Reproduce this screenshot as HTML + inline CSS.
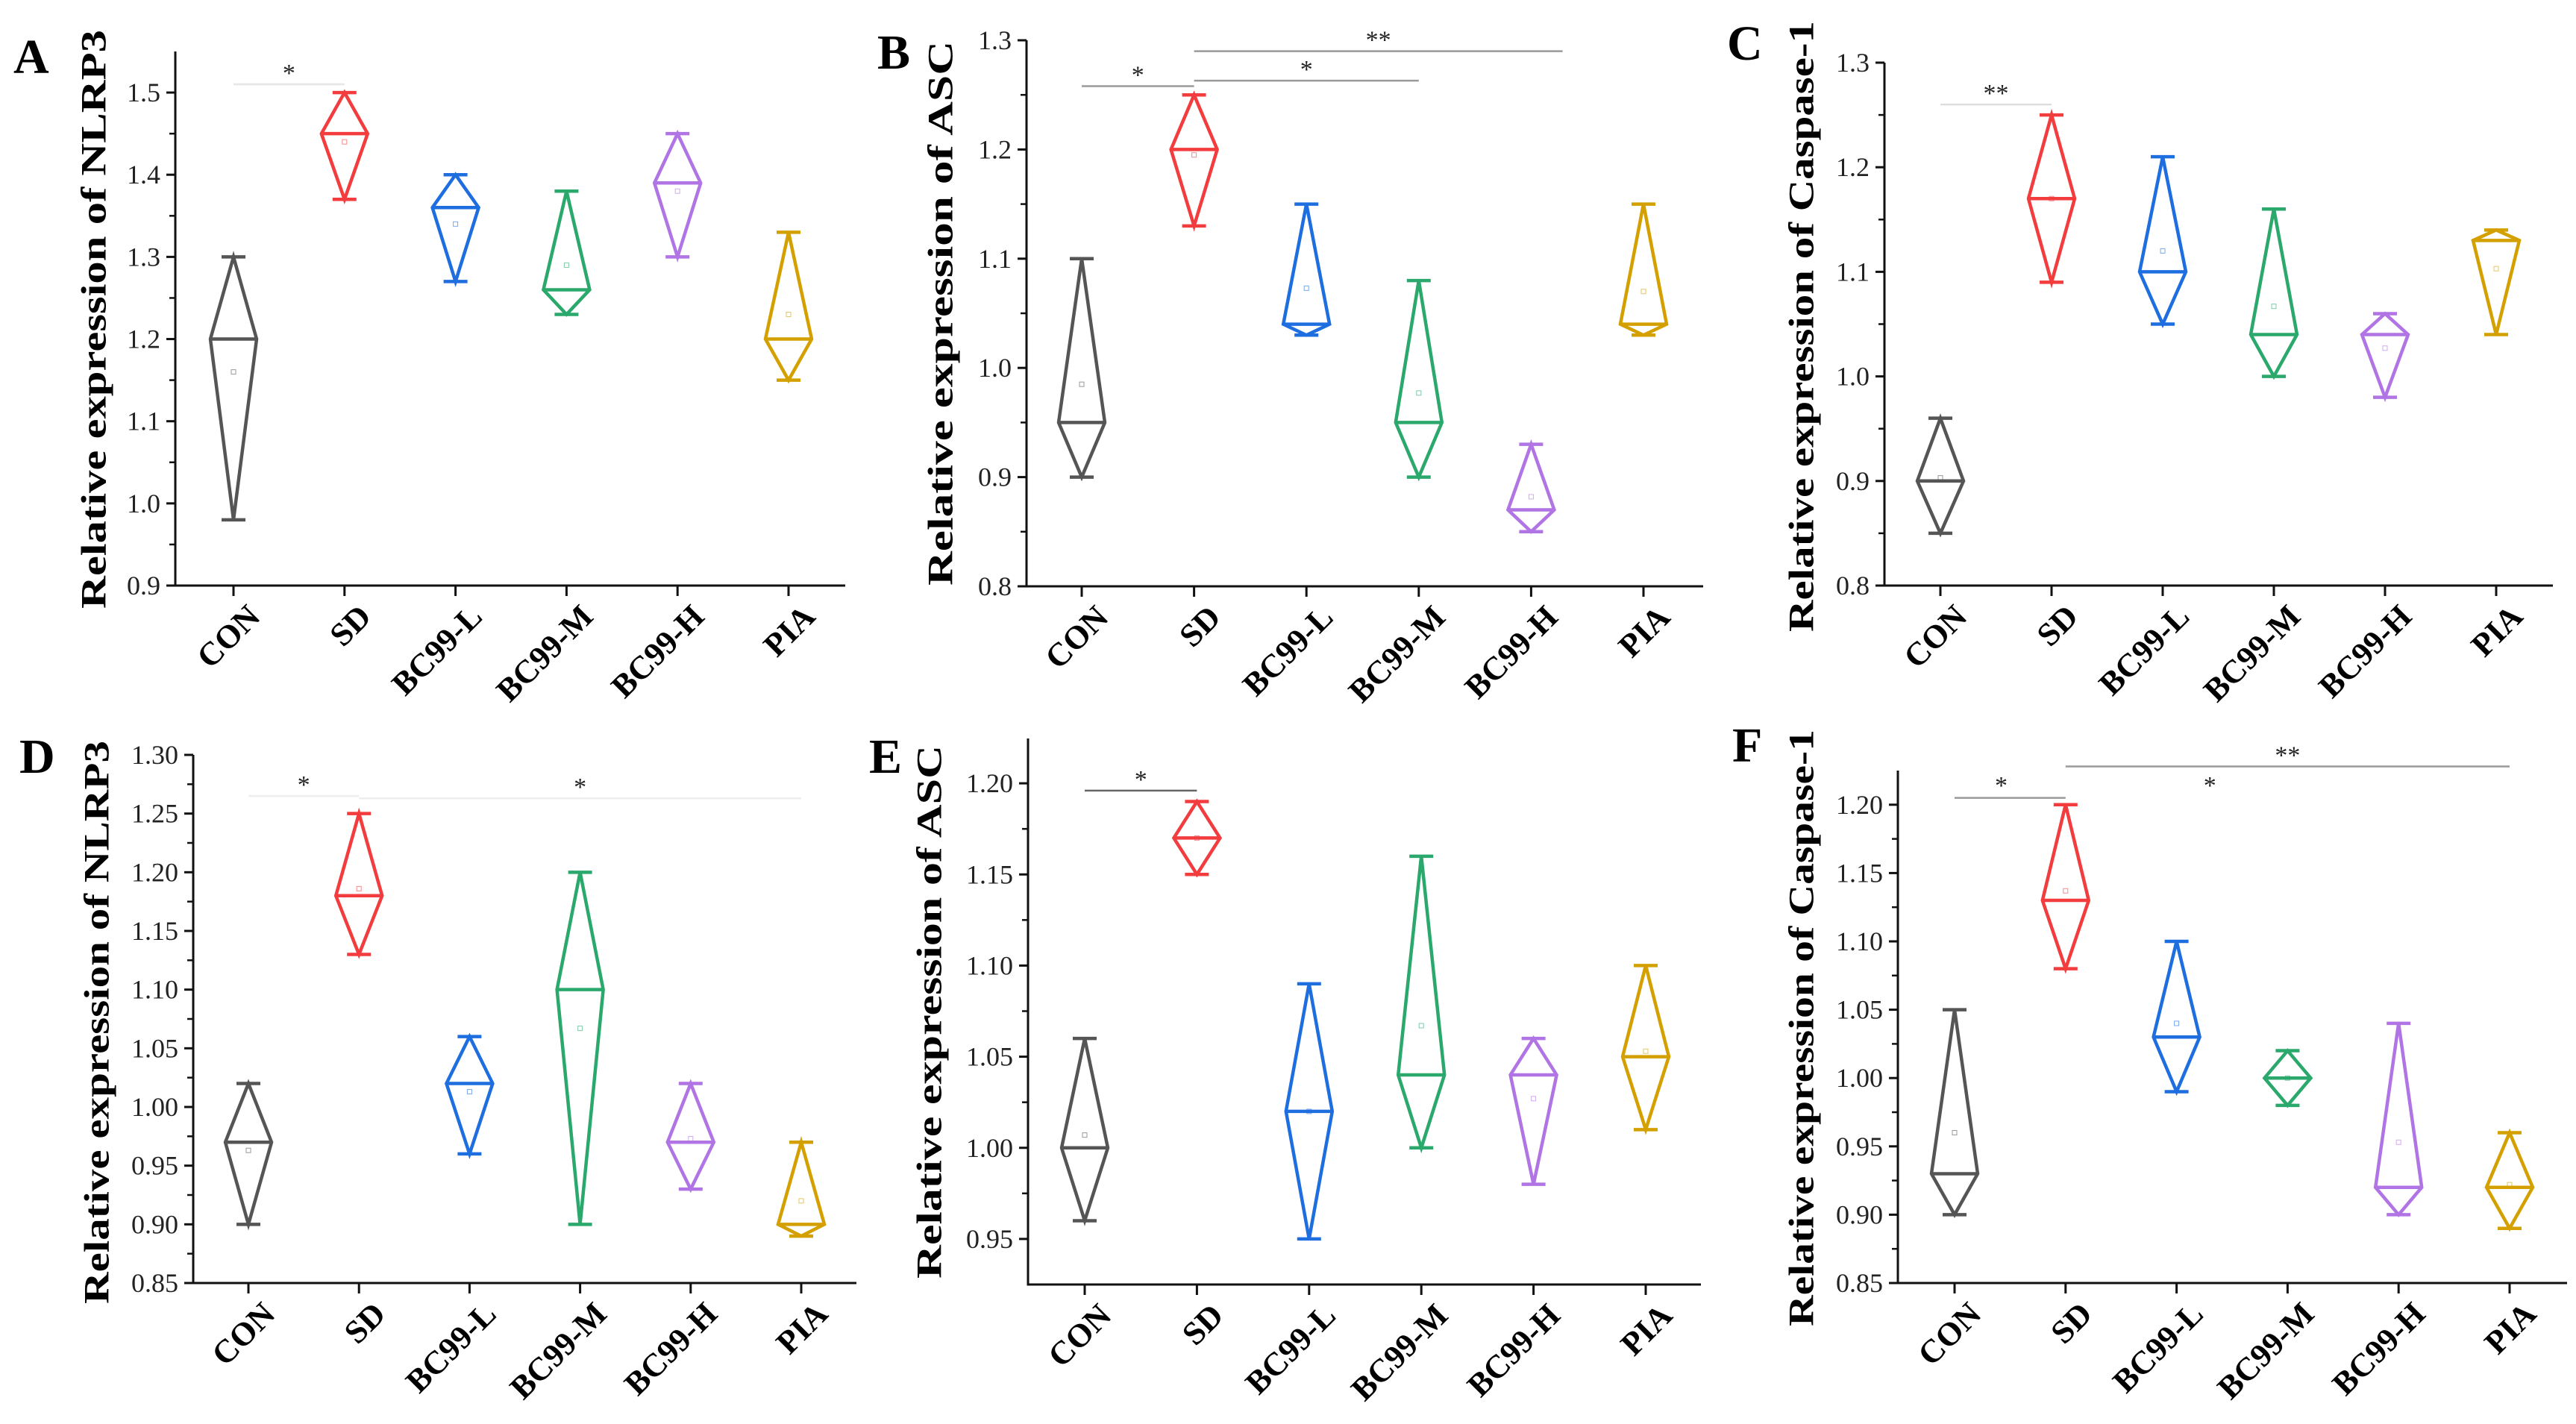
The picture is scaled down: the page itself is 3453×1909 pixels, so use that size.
<!DOCTYPE html>
<html><head><meta charset="utf-8">
<style>
html,body{margin:0;padding:0;background:#fff;}
svg{display:block;}
svg text{font-family:"Liberation Serif","Times New Roman",serif;}
</style></head>
<body>
<svg id="fig" width="3453" height="1909" viewBox="0 0 3453 1909" xmlns="http://www.w3.org/2000/svg" font-family="Liberation Serif, serif"></svg>
<script>
const categories = ["CON","SD","BC99-L","BC99-M","BC99-H","PIA"];
const colors = ["#555555","#f23c3e","#1e6ee0","#2ba86c","#b074e4","#d4a000"];

const minA = [0.98,1.37,1.27,1.23,1.30,1.15];
const medA = [1.20,1.45,1.36,1.26,1.39,1.20];
const maxA = [1.30,1.50,1.40,1.38,1.45,1.33];
const meanA = [1.16,1.44,1.34,1.29,1.38,1.23];

const minB = [0.90,1.13,1.03,0.90,0.85,1.03];
const medB = [0.95,1.20,1.04,0.95,0.87,1.04];
const maxB = [1.10,1.25,1.15,1.08,0.93,1.15];
const meanB = [0.985,1.195,1.073,0.977,0.882,1.07];

const minC = [0.85,1.09,1.05,1.00,0.98,1.04];
const medC = [0.90,1.17,1.10,1.04,1.04,1.13];
const maxC = [0.96,1.25,1.21,1.16,1.06,1.14];
const meanC = [0.903,1.17,1.12,1.067,1.027,1.103];

const minD = [0.90,1.13,0.96,0.90,0.93,0.89];
const medD = [0.97,1.18,1.02,1.10,0.97,0.90];
const maxD = [1.02,1.25,1.06,1.20,1.02,0.97];
const meanD = [0.963,1.186,1.013,1.067,0.973,0.92];

const minE = [0.96,1.15,0.95,1.00,0.98,1.01];
const medE = [1.00,1.17,1.02,1.04,1.04,1.05];
const maxE = [1.06,1.19,1.09,1.16,1.06,1.10];
const meanE = [1.007,1.17,1.02,1.067,1.027,1.053];

const minF = [0.90,1.08,0.99,0.98,0.90,0.89];
const medF = [0.93,1.13,1.03,1.00,0.92,0.92];
const maxF = [1.05,1.20,1.10,1.02,1.04,0.96];
const meanF = [0.96,1.137,1.04,1.00,0.953,0.922];

const ticksA = ["0.9","1.0","1.1","1.2","1.3","1.4","1.5"];
const ticksB = ["0.8","0.9","1.0","1.1","1.2","1.3"];
const ticksC = ["0.8","0.9","1.0","1.1","1.2","1.3"];
const ticksD = ["0.85","0.90","0.95","1.00","1.05","1.10","1.15","1.20","1.25","1.30"];
const ticksE = ["0.95","1.00","1.05","1.10","1.15","1.20"];
const ticksF = ["0.85","0.90","0.95","1.00","1.05","1.10","1.15","1.20"];

const sigA = [[0,1,1.51,"*"]];
const sigB = [[0,1,1.258,"*"],[1,3,1.263,"*"],[1,4.28,1.29,"**"]];
const sigC = [[0,1,1.26,"**"]];
const sigD = [[0,1,1.265,"*"],[1,5,1.263,"*"]];
const sigE = [[0,1,1.196,"*"]];
const sigF = [[0,1,1.205,""],[1,5,1.228,"**"]];
const sigStarsF = [[0.42,1.206,"*"],[2.3,1.206,"*"]];

const panels = [
 {id:"a",letter:"A",title:"Relative expression of NLRP3",ax:235,top:69,bot:785,right:1133,c0:313,c5:1057,ymin:0.9,ymax:1.55,y0:0.9,
  ticks:ticksA,minor:0.05,mn:minA,md:medA,mx:maxA,me:meanA,sig:sigA,tx:126,ty0:40,ty1:816,lx:18,ly:98,sigc:"#e6e6e6"},
 {id:"b",letter:"B",title:"Relative expression of  ASC",ax:1376,top:54,bot:786,right:2283,c0:1450,c5:2203,ymin:0.8,ymax:1.3,y0:0.8,
  ticks:ticksB,minor:0.05,mn:minB,md:medB,mx:maxB,me:meanB,sig:sigB,tx:1261,ty0:55,ty1:785,lx:1176,ly:92,sigc:"#9a9a9a"},
 {id:"c",letter:"C",title:"Relative expression of Caspase-1",ax:2526,top:84,bot:785,right:3422,c0:2601,c5:3346,ymin:0.8,ymax:1.3,y0:0.8,
  ticks:ticksC,minor:0.05,mn:minC,md:medC,mx:maxC,me:meanC,sig:sigC,tx:2415,ty0:28,ty1:847,lx:2315,ly:80,sigc:"#dddddd"},
 {id:"d",letter:"D",title:"Relative expression of NLRP3",ax:259,top:1012,bot:1720,right:1148,c0:333,c5:1074,ymin:0.85,ymax:1.30,y0:0.85,
  ticks:ticksD,minor:0.025,mn:minD,md:medD,mx:maxD,me:meanD,sig:sigD,tx:130,ty0:993,ty1:1748,lx:26,ly:1036,sigc:"#eeeeee"},
 {id:"e",letter:"E",title:"Relative expression of ASC",ax:1378,top:990,bot:1722,right:2280,c0:1454,c5:2206,ymin:0.925,ymax:1.2246,y0:0.95,
  ticks:ticksE,minor:0.025,mn:minE,md:medE,mx:maxE,me:meanE,sig:sigE,tx:1246,ty0:999,ty1:1714,lx:1165,ly:1036,sigc:"#666666"},
 {id:"f",letter:"F",title:"Relative expression of Caspase-1",ax:2544,top:1033,bot:1720,right:3441,c0:2620,c5:3364,ymin:0.85,ymax:1.225,y0:0.85,
  ticks:ticksF,minor:0.025,mn:minF,md:medF,mx:maxF,me:meanF,sig:sigF,tx:2415,ty0:978,ty1:1778,lx:2322,ly:1021,sigc:"#999999"}
];

const NS="http://www.w3.org/2000/svg";
const svg=document.getElementById("fig");
const FF="Liberation Serif, Times New Roman, serif";
function mk(tag,attrs,parent){const e=document.createElementNS(NS,tag);for(const k in attrs)e.setAttribute(k,attrs[k]);if(tag==="text")e.setAttribute("font-family",FF);(parent||svg).appendChild(e);return e;}

panels.forEach(p=>{
  const g=mk("g",{});
  
  
  const y=v=>p.bot-(v-p.ymin)/(p.ymax-p.ymin)*(p.bot-p.top);
  const x=i=>p.c0+i*(p.c5-p.c0)/5;

  const lt=mk("text",{x:p.lx,y:p.ly,"font-size":66,"font-weight":"bold",fill:"#000"},g);
  lt.textContent=p.letter;
  
  

  const cy=(p.ty0+p.ty1)/2;
  const tt=mk("text",{x:p.tx,y:cy,"font-size":48,"font-weight":"bold",fill:"#000","text-anchor":"middle","dominant-baseline":"central",transform:`rotate(-90 ${p.tx} ${cy})`,textLength:(p.ty1-p.ty0),lengthAdjust:"spacingAndGlyphs"},g);
  tt.textContent=p.title;
  
  

  const ya=mk("line",{x1:p.ax,y1:p.top,x2:p.ax,y2:p.bot+1.5,stroke:"#111","stroke-width":3},g);
  
  
  const xa=mk("line",{x1:p.ax-1.5,y1:p.bot,x2:p.right,y2:p.bot,stroke:"#111","stroke-width":3},g);
  
  

  p.ticks.forEach(t=>{
    const v=parseFloat(t), yy=y(v);
    mk("line",{x1:p.ax-12,y1:yy,x2:p.ax,y2:yy,stroke:"#111","stroke-width":3},g);
    const tl=mk("text",{x:p.ax-20,y:yy+12,"font-size":36,fill:"#222","text-anchor":"end"},g);
    tl.textContent=t;
    
    
  });
  const step=p.minor;
  for(let v=p.y0+step; v<p.ymax-1e-6; v+=2*step){
    const yy=y(v); if(yy<p.top) break;
    mk("line",{x1:p.ax-8,y1:yy,x2:p.ax,y2:yy,stroke:"#111","stroke-width":2.5},g);
  }

  categories.forEach((c,i)=>{
    const cx=x(i);
    mk("line",{x1:cx,y1:p.bot,x2:cx,y2:p.bot+14,stroke:"#111","stroke-width":3},g);
    const lx=cx+38, ly=p.bot+44;
    const xl=mk("text",{x:lx,y:ly,"font-size":44,"font-weight":"bold",fill:"#000","text-anchor":"end",transform:`rotate(-45 ${lx} ${ly})`},g);
    xl.textContent=c;
    
    

    const col=colors[i];
    const yMin=y(p.mn[i]), yMed=y(p.md[i]), yMax=y(p.mx[i]);
    const hw=31, cw=16;
    const box=mk("g",{},g);
    
    
    mk("polygon",{points:`${cx},${yMax} ${cx+hw},${yMed} ${cx},${yMin} ${cx-hw},${yMed}`,fill:"none",stroke:col,"stroke-width":4.5,"stroke-linejoin":"miter"},box);
    mk("line",{x1:cx-hw,y1:yMed,x2:cx+hw,y2:yMed,stroke:col,"stroke-width":4.5},box);
    mk("line",{x1:cx-cw,y1:yMax,x2:cx+cw,y2:yMax,stroke:col,"stroke-width":4.5},box);
    mk("line",{x1:cx-cw,y1:yMin,x2:cx+cw,y2:yMin,stroke:col,"stroke-width":4.5},box);
    mk("rect",{x:cx-3,y:y(p.me[i])-3,width:6,height:6,fill:"none",stroke:col,"stroke-width":1,opacity:0.6},box);
  });

  p.sig.forEach(s=>{
    const x1=x(s[0]), x2=x(s[1]), yy=y(s[2]);
    const sl=mk("line",{x1:x1,y1:yy,x2:x2,y2:yy,stroke:p.sigc,"stroke-width":2.5},g);
    
    
    if(s[3]){
      const st=mk("text",{x:(x1+x2)/2,y:yy-4,"font-size":34,fill:"#222","text-anchor":"middle"},g);
      st.textContent=s[3];
      
      
    }
  });
  if(p.id==="f"){
    sigStarsF.forEach(s=>{
      const st=mk("text",{x:x(s[0]),y:y(s[1])-4,"font-size":34,fill:"#222","text-anchor":"middle"},g);
      st.textContent=s[2];
      
      
    });
  }
});
</script>
</body></html>
